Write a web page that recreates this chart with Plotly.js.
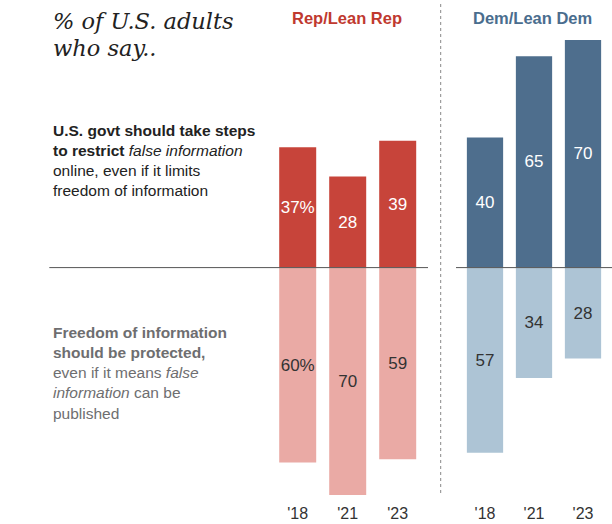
<!DOCTYPE html>
<html>
<head>
<meta charset="utf-8">
<script src="https://cdn.plot.ly/plotly-3.0.1.min.js"></script>
<style>html,body{margin:0;padding:0;background:#fff;}#chart{width:612px;height:524px;}</style>
</head>
<body>
<div id="chart"></div>
<script>
// Data
const years = ["'18", "'21", "'23"];
const repRestrict = [37, 28, 39];
const repFreedom = [60, 70, 59];
const demRestrict = [40, 65, 70];
const demFreedom = [57, 34, 28];

const W = 612, H = 524, B = 24;
const PH = H - B;
const px = v => v / W;
const py = v => (PH - v) / PH;

const repRestrictText = repRestrict.map((v, i) => i === 0 ? v + '%' : String(v));
const repFreedomText = repFreedom.map((v, i) => i === 0 ? v + '%' : String(v));
const demRestrictText = demRestrict.map(String);
const demFreedomText = demFreedom.map(String);

const FONT = 'Liberation Sans, Arial, sans-serif';

function barTrace(xa, yvals, text, color, tcolor, name) {
  return {
    type: 'bar', x: years, y: yvals, xaxis: xa, yaxis: 'y',
    text: text, textposition: 'inside', insidetextanchor: 'middle',
    textangle: 0, constraintext: 'none',
    textfont: {family: FONT, size: 17, color: tcolor},
    marker: {color: color, line: {width: 0}},
    hoverinfo: 'skip', name: name, showlegend: false
  };
}

const data = [
  barTrace('x', repRestrict, repRestrictText, '#c7443a', '#ffffff', 'Rep restrict'),
  barTrace('x', repFreedom.map(v => -v), repFreedomText, '#eaaaa5', '#333333', 'Rep freedom'),
  barTrace('x2', demRestrict, demRestrictText, '#4e6e8d', '#ffffff', 'Dem restrict'),
  barTrace('x2', demFreedom.map(v => -v), demFreedomText, '#adc4d5', '#333333', 'Dem freedom')
];

const xaxisBase = {
  type: 'category', categoryorder: 'array', categoryarray: years,
  showgrid: false, zeroline: false, showline: false, ticks: '',
  ticklabelstandoff: 2,
  tickfont: {family: FONT, size: 16, color: '#333'},
  fixedrange: true, anchor: 'y'
};

const layout = {
  width: W, height: H,
  margin: {l: 0, r: 0, t: 0, b: B, pad: 0},
  paper_bgcolor: '#fff', plot_bgcolor: '#fff',
  barmode: 'relative', bargap: 0.26,
  xaxis: Object.assign({}, xaxisBase, {domain: [px(272.7), px(422.7)]}),
  xaxis2: Object.assign({}, xaxisBase, {domain: [px(460.5), px(607.5)]}),
  yaxis: {range: [-(PH - 267.6) / 3.25, 267.6 / 3.25], visible: false, fixedrange: true},
  shapes: [
    {type: 'line', xref: 'paper', yref: 'y', x0: px(49.3), x1: px(428), y0: 0, y1: 0, line: {color: '#555', width: 1}},
    {type: 'line', xref: 'paper', yref: 'y', x0: px(456), x1: 1, y0: 0, y1: 0, line: {color: '#555', width: 1}},
    {type: 'line', xref: 'paper', yref: 'paper', x0: px(440.7), x1: px(440.7), y0: py(493), y1: py(3), line: {color: '#888', width: 1, dash: 'dot'}}
  ],
  annotations: [
    {text: '<i>% of U.S. adults</i>', xref: 'paper', yref: 'paper', x: px(51), y: py(21), xanchor: 'left', yanchor: 'middle', showarrow: false,
     font: {family: 'DejaVu Serif, Georgia, serif', size: 22.5, color: '#222'}},
    {text: '<i>who say..</i>', xref: 'paper', yref: 'paper', x: px(51), y: py(48), xanchor: 'left', yanchor: 'middle', showarrow: false,
     font: {family: 'DejaVu Serif, Georgia, serif', size: 22.5, color: '#222'}},
    {text: '<b>Rep/Lean Rep</b>', xref: 'paper', yref: 'paper', x: px(346.7), y: py(18), xanchor: 'center', yanchor: 'middle', showarrow: false,
     font: {family: FONT, size: 16.5, color: '#c0392f'}},
    {text: '<b>Dem/Lean Dem</b>', xref: 'paper', yref: 'paper', x: px(532.5), y: py(18), xanchor: 'center', yanchor: 'middle', showarrow: false,
     font: {family: FONT, size: 16.5, color: '#4a6d8e'}},
    {text: '<b>U.S. govt should take steps</b><br><b>to restrict</b> <i>false information</i><br>online, even if it limits<br>freedom of information',
     xref: 'paper', yref: 'paper', x: px(51), y: py(161), xanchor: 'left', yanchor: 'middle', align: 'left', showarrow: false,
     font: {family: FONT, size: 15.5, color: '#222'}},
    {text: '<b>Freedom of information</b><br><b>should be protected,</b><br>even if it means <i>false</i><br><i>information</i> can be<br>published',
     xref: 'paper', yref: 'paper', x: px(51), y: py(373), xanchor: 'left', yanchor: 'middle', align: 'left', showarrow: false,
     font: {family: FONT, size: 15.5, color: '#6e6e70'}}
  ]
};

Plotly.newPlot('chart', data, layout, {displayModeBar: false, staticPlot: true});
</script>
</body>
</html>
